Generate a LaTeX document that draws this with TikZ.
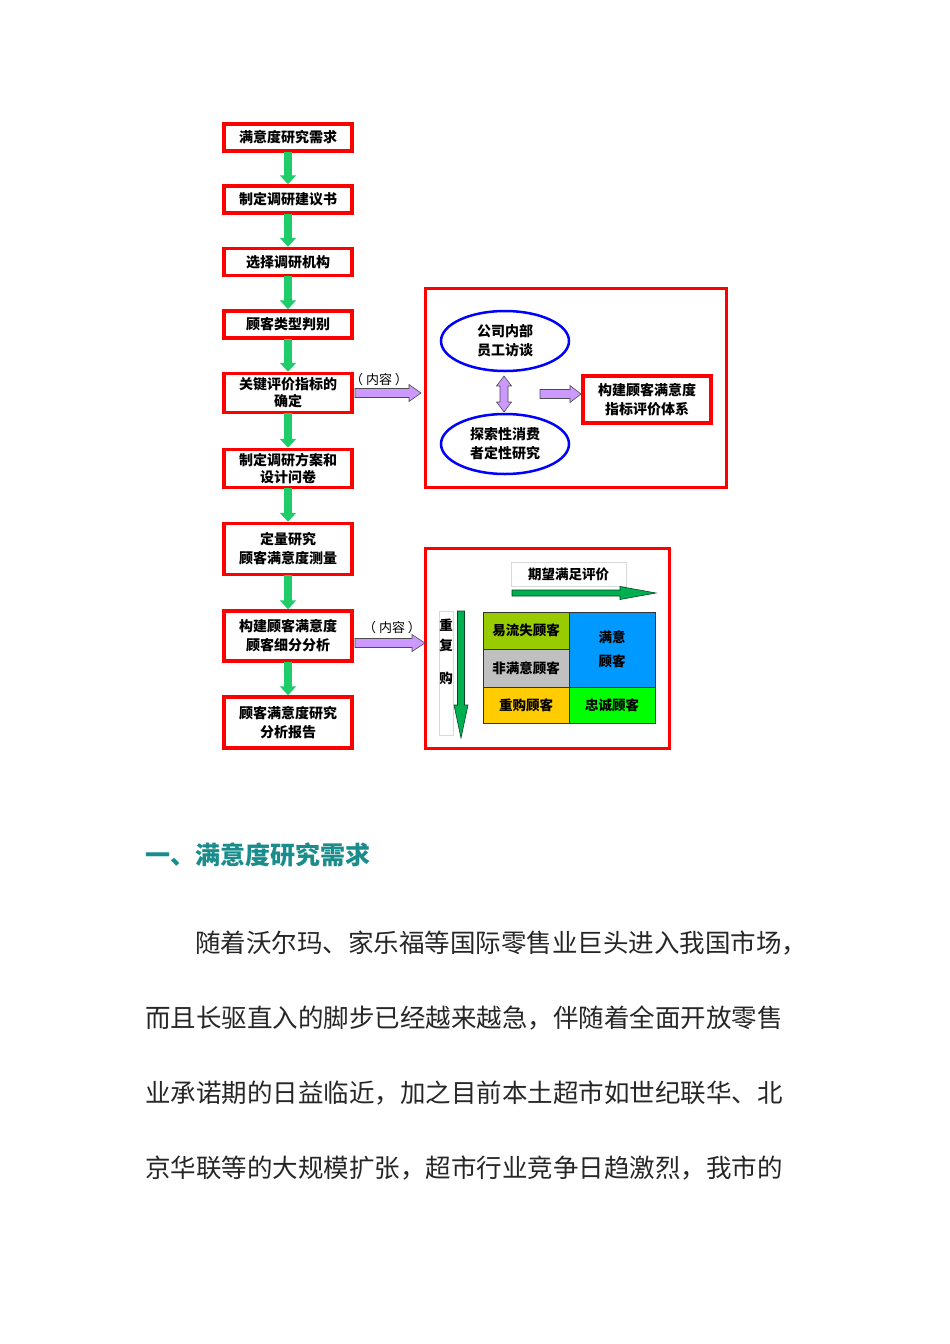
\documentclass[tikz,border=0pt]{standalone}
\usepackage{fontspec}
\setmainfont{Noto Sans CJK SC}
\usetikzlibrary{shapes.geometric,arrows.meta,calc}
\definecolor{fred}{HTML}{FF0000}
\definecolor{fgreen}{HTML}{1ECC6A}
\definecolor{lav}{HTML}{CC99FF}
\definecolor{bblue}{HTML}{0000FF}
\definecolor{teal2}{HTML}{1A8C8C}
\definecolor{olive2}{HTML}{99CC00}
\definecolor{gray2}{HTML}{C0C0C0}
\definecolor{gold2}{HTML}{FFCC00}
\definecolor{sky2}{HTML}{0099FF}
\definecolor{lime2}{HTML}{00FF00}
\definecolor{darr}{HTML}{00B050}
\newcommand{\hblk}[7]{\draw[#1] (#2,#4-#5) -- (#3-#7,#4-#5) -- (#3-#7,#4-#6) -- (#3,#4) -- (#3-#7,#4+#6) -- (#3-#7,#4+#5) -- (#2,#4+#5) -- cycle;}
\newcommand{\vblk}[7]{\draw[#1] (#4-#5,#2) -- (#4-#5,#3-#7) -- (#4-#6,#3-#7) -- (#4,#3) -- (#4+#6,#3-#7) -- (#4+#5,#3-#7) -- (#4+#5,#2) -- cycle;}
\begin{document}
\begin{tikzpicture}[x=1pt,y=-1pt,
  flowbox/.style={draw=fred,line width=3.5pt,fill=white,minimum width=128pt,inner sep=0pt,font=\bfseries\fontsize{14}{15}\selectfont,align=center},
  oval/.style={ellipse,draw=bblue,line width=2.5pt,fill=white,minimum width=128pt,minimum height=60pt,inner sep=0pt,font=\bfseries\fontsize{14}{19}\selectfont,align=center},
  gflow/.style={fgreen,line width=7.5pt,-{Triangle[width=16pt,length=9pt]},shorten <=-1pt},
  purp/.style={draw=black!70,fill=lav,line width=0.6pt},
  garr/.style={draw=black!60!darr,fill=darr,line width=0.6pt},
  cell/.style={draw=black!80,line width=0.8pt,font=\bfseries\fontsize{13.5}{19}\selectfont,align=center},
  body/.style={anchor=west,font=\fontsize{25.5}{30}\selectfont,text=black!85,inner sep=0pt}
]
\useasboundingbox (0,0) rectangle (950,1344);
% left flow
\node[flowbox,minimum height=27pt] (b1) at (288,137.5) {满意度研究需求};
\node[flowbox,minimum height=27pt] (b2) at (288,199.5) {制定调研建议书};
\node[flowbox,minimum height=27pt] (b3) at (288,262) {选择调研机构};
\node[flowbox,minimum height=27pt] (b4) at (288,324.5) {顾客类型判别};
\node[flowbox,minimum height=39pt,font=\bfseries\fontsize{14}{18}\selectfont] (b5) at (288,393) {关键评价指标的\\[-1pt]确定};
\node[flowbox,minimum height=38pt,font=\bfseries\fontsize{14}{18}\selectfont] (b6) at (288,468.5) {制定调研方案和\\[-1pt]设计问卷};
\node[flowbox,minimum height=51pt,font=\bfseries\fontsize{14}{19}\selectfont] (b7) at (288,549) {定量研究\\顾客满意度测量};
\node[flowbox,minimum height=50pt,font=\bfseries\fontsize{14}{19}\selectfont] (b8) at (288,636) {构建顾客满意度\\顾客细分分析};
\node[flowbox,minimum height=51pt,font=\bfseries\fontsize{14}{19}\selectfont] (b9) at (288,722.5) {顾客满意度研究\\分析报告};
\foreach \a/\b in {b1/b2,b2/b3,b3/b4,b4/b5,b5/b6,b6/b7,b7/b8,b8/b9}
  \draw[gflow] (\a.south) -- (\b.north);
% right box 1
\node[draw=fred,line width=3pt,minimum width=301pt,minimum height=199pt,inner sep=0pt] (r1) at (576,387.5) {};
\node[oval] (e1) at (505,341) {公司内部\\员工访谈};
\node[oval] (e2) at (505,444) {探索性消费\\者定性研究};
\node[flowbox,minimum width=128pt,minimum height=47pt,font=\bfseries\fontsize{14}{19}\selectfont] (k1) at (647,399.5) {构建顾客满意度\\指标评价体系};
\draw[purp] (500,386) -- (500,402) -- (496.5,402) -- (504,412) -- (511.5,402) -- (508,402) -- (508,386) -- (511.5,386) -- (504,376) -- (496.5,386) -- cycle;
\hblk{purp}{540}{581}{394}{4.5}{8.5}{11}
% arrow 1 with label
\hblk{purp}{355}{421}{393}{4.5}{8.5}{12}
\node[font=\fontsize{13}{14}\selectfont,inner sep=0pt] (l1) at (379,380) {（ 内容 ）};
% right box 2
\node[draw=fred,line width=3pt,minimum width=244pt,minimum height=200pt,inner sep=0pt] (r2) at (547.5,648.5) {};
\node[draw=black!15,line width=0.8pt,minimum width=115pt,minimum height=24pt,inner sep=0pt,font=\bfseries\fontsize{13.5}{15}\selectfont] (exp) at (568.5,574) {期望满足评价};
\hblk{garr}{512}{656}{593}{3}{6.5}{36}
\node[draw=black!15,line width=0.8pt,minimum width=14pt,minimum height=124pt,inner sep=0pt] (rep) at (446,673) {};
\node[font=\bfseries\fontsize{13.5}{15}\selectfont,inner sep=0pt] (t1) at (446,625) {重};
\node[font=\bfseries\fontsize{13.5}{15}\selectfont,inner sep=0pt] (t2) at (446,645) {复};
\node[font=\bfseries\fontsize{13.5}{15}\selectfont,inner sep=0pt] (t3) at (446,678) {购};
\vblk{garr}{611}{738}{461}{3.5}{7}{33}
% grid
\node[cell,fill=olive2,minimum width=86pt,minimum height=37pt,inner sep=0pt] (c1) at (526,630.5) {易流失顾客};
\node[cell,fill=gray2,minimum width=86pt,minimum height=38pt,inner sep=0pt] (c2) at (526,668) {非满意顾客};
\node[cell,fill=gold2,minimum width=86pt,minimum height=36pt,inner sep=0pt] (c3) at (526,705) {重购顾客};
\node[cell,fill=sky2,minimum width=86pt,minimum height=75pt,inner sep=0pt,font=\bfseries\fontsize{13.5}{24}\selectfont] (c4) at (612,649.5) {满意\\顾客};
\node[cell,fill=lime2,minimum width=86pt,minimum height=36pt,inner sep=0pt] (c5) at (612,705) {忠诚顾客};
\hblk{purp}{355}{425}{643}{4.5}{8.5}{13}
\node[font=\fontsize{13}{14}\selectfont,inner sep=0pt] (l2) at (392,628) {（ 内容 ）};
% text
\node[anchor=west,inner sep=0pt,text=teal2,font=\bfseries\fontsize{25}{30}\selectfont] (h) at (145,855) {一、满意度研究需求};
\node[body] (p1) at (195,943) {随着沃尔玛、家乐福等国际零售业巨头进入我国市场，};
\node[body] (p2) at (145,1018) {而且长驱直入的脚步已经越来越急，伴随着全面开放零售};
\node[body] (p3) at (145,1093) {业承诺期的日益临近，加之目前本土超市如世纪联华、北};
\node[body] (p4) at (145,1168) {京华联等的大规模扩张，超市行业竞争日趋激烈，我市的};
\end{tikzpicture}
\end{document}
